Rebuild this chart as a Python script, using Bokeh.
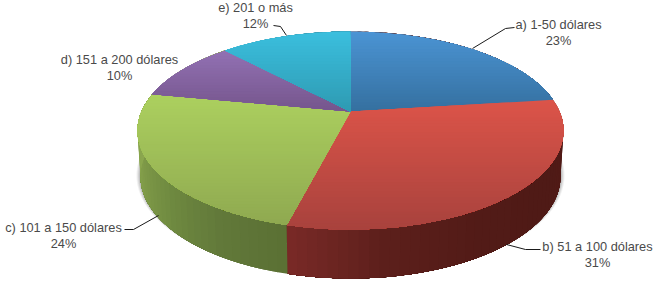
import numpy as np
from bokeh.embed import file_html
from bokeh.models import Range1d, ColumnDataSource
from bokeh.plotting import figure
from bokeh.resources import INLINE
from bokeh.core.properties import value

categories = ["a) 1-50 dólares", "b) 51 a 100 dólares", "c) 101 a 150 dólares", "d) 151 a 200 dólares", "e) 201 o más"]
shares = [23, 31, 24, 10, 12]
share_labels = ["23%", "31%", "24%", "10%", "12%"]

face_top = ["#4b94d4", "#dc5449", "#acd05f", "#9271b3", "#3bbfde"]
face_bottom = ["#35709f", "#a8423d", "#8fa950", "#75558c", "#2e9ab2"]
wall_stops = [
    ["#5a211b", "#5a211b"],
    ["#5a211b", "#501a16", "#4f1a16", "#521b17", "#5c1f1b", "#7a2a27"],
    ["#5a7034", "#62793a", "#6f8a40", "#7f9a48", "#8aa64e", "#8eaa50"],
    ["#8aa64e", "#8aa64e"],
    ["#3a9ab2", "#3a9ab2"],
]
label_xy = [(558, 24), (597, 246), (63, 227), (119, 59), (255, 7)]
leaders = [
    ([472, 505, 514], [48, 28, 27]),
    ([506, 525, 540], [244, 249, 249]),
    ([124, 133, 158], [229, 229, 215]),
    ([273, 280, 286], [25, 26, 35]),
]

# projected disc
CX, TOP_Y, A_MAX, T = 350.0, 111.0, 213.0, 0.192
BOT_Y, BOT_A = 156.4, 210.0


def project(theta, y0=TOP_Y, a=A_MAX, top=80.0):
    u, v = np.sin(theta), np.cos(theta)
    w = 1 + T * v
    return CX + a * np.sqrt(1 - T * T) * u / w, y0 - top * (1 + T) * v / w


def bot(theta):
    return project(theta, BOT_Y, BOT_A, 82.4)


def hex2rgb(c):
    return np.array([int(c[i:i + 2], 16) for i in (1, 3, 5)], float)


def mix(stops, f):
    pos = f * (len(stops) - 1)
    i = min(int(pos), len(stops) - 2)
    k = pos - i
    c = hex2rgb(stops[i]) * (1 - k) + hex2rgb(stops[i + 1]) * k
    return "#%02x%02x%02x" % tuple(int(round(x)) for x in c)


def clip_below(poly, y0):
    out = []
    for i in range(len(poly)):
        a, b = poly[i], poly[(i + 1) % len(poly)]
        ia, ib = a[1] >= y0, b[1] >= y0
        if ia:
            out.append(a)
        if ia != ib:
            k = (y0 - a[1]) / (b[1] - a[1])
            out.append((a[0] + k * (b[0] - a[0]), y0))
    return out


p = figure(width=656, height=285, output_backend="svg", toolbar_location=None,
           x_range=Range1d(0, 656), y_range=Range1d(285, 0), min_border=0,
           outline_line_color=None, background_fill_color="white")
p.styles = {"position": "absolute", "left": "0px", "top": "0px"}
p.axis.visible = False
p.grid.visible = False

cum = np.cumsum([0] + shares) / sum(shares) * 2 * np.pi

# soft shadow under the wall
for grow, alpha in [(4, 0.10), (3, 0.14), (2, 0.18), (1, 0.25)]:
    th = np.linspace(np.pi * 0.35, np.pi * 1.65, 200)
    xs, ys = project(th, BOT_Y - 1, BOT_A + grow, 82.4)
    p.patch(list(xs), list(ys), fill_color="#777777", fill_alpha=alpha, line_color=None)

# wall: each strip reaches the slice's end and the next one paints over it
wx, wy, wc = [], [], []
for i in range(len(shares)):
    t0, t1 = cum[i], cum[i + 1]
    n = max(2, int((t1 - t0) / 0.04))
    edges = np.linspace(t0, t1, n + 1)
    for j in range(n):
        th = np.linspace(edges[j], t1, max(3, (n - j) * 3))
        xa, ya = project(th)
        xb, yb = bot(th[::-1])
        wx.append(list(xa) + list(xb))
        wy.append(list(ya) + list(yb))
        wc.append(mix(wall_stops[i], (j + 0.5) / n))
p.patches(wx, wy, fill_color=wc, line_color=None)

# top face: bands running down to the slice's lowest point, painted top to bottom
fx, fy, fc = [], [], []
for i in range(len(shares)):
    th = np.linspace(cum[i], cum[i + 1], 120)
    xs, ys = project(th)
    poly = [(CX, TOP_Y)] + list(zip(xs, ys))
    lo, hi = min(q[1] for q in poly), max(q[1] for q in poly)
    bands = int(hi - lo) // 3 + 1
    for k in range(bands):
        c = clip_below(poly, lo + (hi - lo) * k / bands)
        if len(c) >= 3:
            fx.append([q[0] for q in c])
            fy.append([q[1] for q in c])
            fc.append(mix([face_top[i], face_bottom[i]], (k + 0.5) / bands))
p.patches(fx, fy, fill_color=fc, line_color=None)

# leaders
p.multi_line([l[0] for l in leaders], [l[1] for l in leaders], line_color="#1a1a1a", line_width=1)

# labels
src = ColumnDataSource(dict(
    x=[q[0] for q in label_xy] * 2,
    y=[q[1] for q in label_xy] + [q[1] + 16 for q in label_xy],
    t=categories + share_labels,
))
p.text("x", "y", text="t", source=src, text_font=value("Liberation Sans"), text_font_size="12.8px",
       text_color="#4a4a4a", text_align="center", text_baseline="middle")

open("out.html", "w").write(file_html(p, INLINE))
